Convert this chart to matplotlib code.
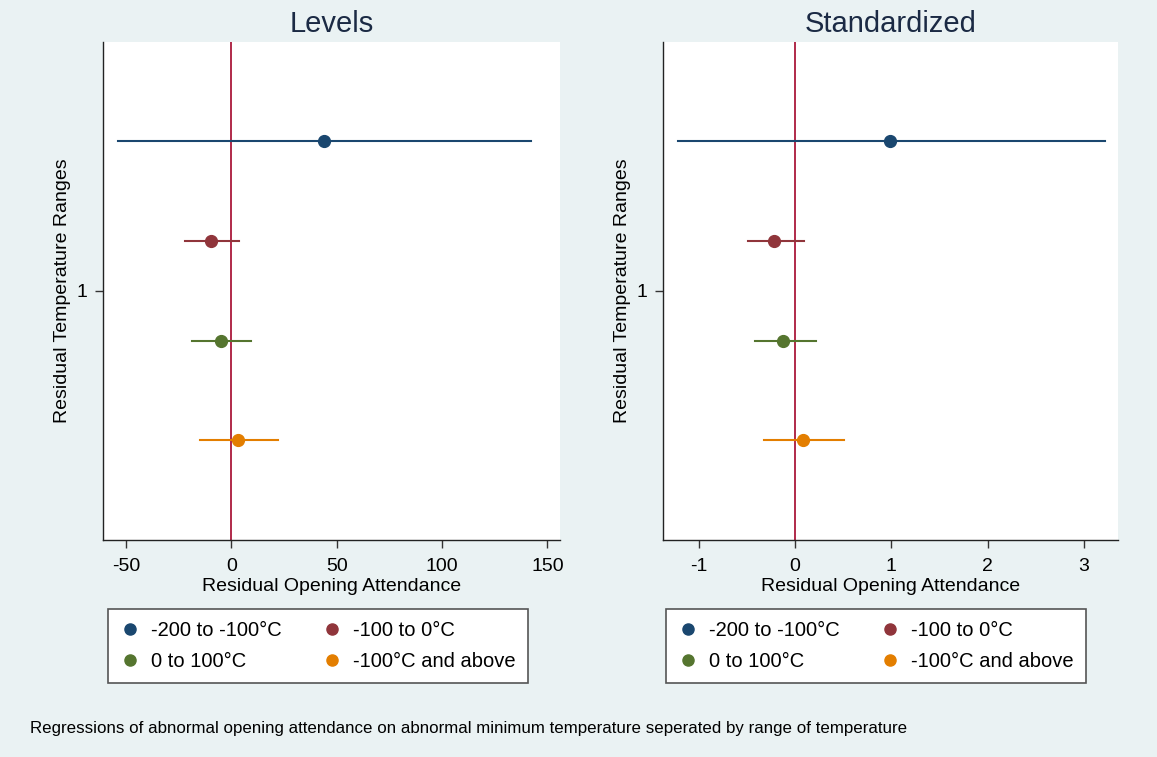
import matplotlib
matplotlib.use('Agg')
import matplotlib.pyplot as plt
from matplotlib.lines import Line2D

# ---- data ----
groups = ['-200 to -100°C', '-100 to 0°C', '0 to 100°C', '-100°C and above']
colors = ['#1a476f', '#90353b', '#55752f', '#e37e00']
offsets = [-0.3, -0.1, 0.1, 0.3]

lev_est = [43.8, -9.9, -4.9, 3.2]
lev_lo = [-53.8, -22.0, -18.9, -14.8]
lev_hi = [142.4, 3.7, 9.5, 22.0]

std_est = [0.99, -0.22, -0.12, 0.08]
std_lo = [-1.21, -0.49, -0.41, -0.32]
std_hi = [3.22, 0.09, 0.22, 0.51]

panels = [
    ('Levels', lev_est, lev_lo, lev_hi, [-50, 0, 50, 100, 150], (-61, 156)),
    ('Standardized', std_est, std_lo, std_hi, [-1, 0, 1, 2, 3], (-1.37, 3.35)),
]

bg = '#eaf2f3'
plt.rcParams['font.family'] = ['Liberation Sans', 'DejaVu Sans']
plt.rcParams['axes.unicode_minus'] = False

fig = plt.figure(figsize=(11.57, 7.57), dpi=100, facecolor=bg)
ax_rects = [[0.089, 0.2867, 0.395, 0.658], [0.573, 0.2867, 0.393, 0.658]]
leg_anchor = [(0.0933, 0.0977), (0.5754, 0.0977)]

# legend is filled row by row in the original -> reorder for matplotlib's column fill
order = [0, 2, 1, 3]

for (title, est, lo, hi, ticks, xlim), rect, anchor in zip(panels, ax_rects, leg_anchor):
    ax = fig.add_axes(rect)
    ax.set_facecolor('white')
    for s in ['top', 'right']:
        ax.spines[s].set_visible(False)
    for s in ['left', 'bottom']:
        ax.spines[s].set_color('#222222')
        ax.spines[s].set_linewidth(1.0)
    ax.axvline(0, color='#b02a4a', lw=1.4, zorder=1)
    for i in range(len(groups)):
        y = 1 + offsets[i]
        ax.plot([lo[i], hi[i]], [y, y], color=colors[i], lw=1.5, zorder=2)
        ax.plot(est[i], y, 'o', color=colors[i], ms=8.5, zorder=3)
    ax.set_xlim(*xlim)
    ax.set_ylim(1.5, 0.5)
    ax.set_xticks(ticks)
    ax.set_yticks([1])
    ax.tick_params(labelsize=14, length=6, width=1, color='#333333', pad=7)
    ax.tick_params(axis='y', pad=5)
    ax.set_xlabel('Residual Opening Attendance', fontsize=14, labelpad=2)
    ax.set_ylabel('Residual Temperature Ranges', fontsize=14, labelpad=4)
    ax.set_title(title, fontsize=21, color='#1b2a44', pad=7)

    handles = [Line2D([], [], marker='o', ls='', color=colors[k], ms=8) for k in order]
    labels = [groups[k] for k in order]
    leg = fig.legend(handles, labels, loc='lower left', bbox_to_anchor=anchor,
                     ncol=2, fontsize=14.5, frameon=True, fancybox=False,
                     handletextpad=0.55, borderaxespad=0, borderpad=0.6,
                     labelspacing=0.6, handlelength=1.0, columnspacing=2.0,
                     facecolor='white', framealpha=1)
    leg.get_frame().set_edgecolor('#555555')
    leg.get_frame().set_linewidth(1.2)

fig.text(0.026, 0.038, 'Regressions of abnormal opening attendance on abnormal minimum '
         'temperature seperated by range of temperature', fontsize=12.2,
         family=['Liberation Sans Narrow', 'Liberation Sans', 'DejaVu Sans'], va='center')

plt.savefig('out.png', dpi=100, facecolor=bg)
